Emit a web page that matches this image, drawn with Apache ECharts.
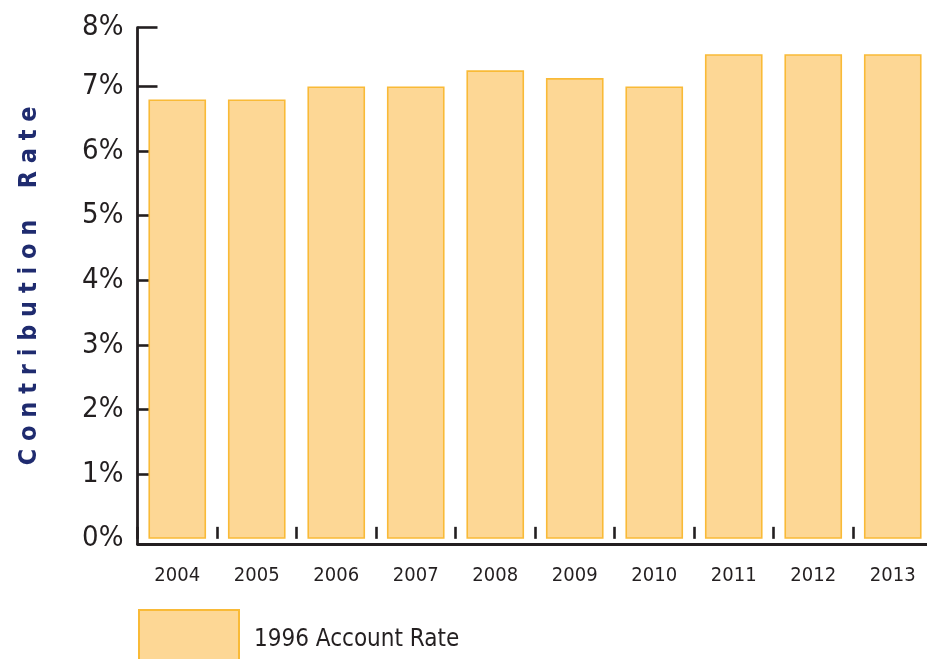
<!DOCTYPE html>
<html>
<head>
<meta charset="utf-8">
<script src="https://cdn.jsdelivr.net/npm/echarts@6/dist/echarts.min.js"></script>
<style>
html,body{margin:0;padding:0;background:#fff;}
#chart{width:927px;height:659px;}
</style>
</head>
<body>
<div id="chart"></div>
<script>
var years = ['2004','2005','2006','2007','2008','2009','2010','2011','2012','2013'];
var accountRate = [6.8, 6.8, 7.0, 7.0, 7.25, 7.13, 7.0, 7.5, 7.5, 7.5];
var seriesName = '1996 Account Rate';
var yAxisTitle = 'Contribution Rate';
var yTickLabels = ['0%','1%','2%','3%','4%','5%','6%','7%','8%'];

var FONT = '"Liberation Sans Narrow", "DejaVu Sans Condensed", "Liberation Sans", sans-serif';
var INK = '#231F20';
var AX_MAX = 7.91;   // top of the drawn axis, where the "8%" label sits
var AX_MIN = -0.08;  // axis extends slightly below zero

var labelVals = yTickLabels.map(function(_, i){ return i === yTickLabels.length - 1 ? AX_MAX : i; });
var tickVals = labelVals.slice(1);

function spaced(s){
  return s.split(' ').map(function(w){ return w.split('').join(' '); }).join('    ');
}

var chart = echarts.init(document.getElementById('chart'), null, {renderer:'canvas'});
chart.setOption({
  animation: false,
  grid: {left: 137.5, top: 27.7, width: 795, height: 516.3, containLabel: false, outerBoundsMode: 'none'},
  legend: {
    data: [seriesName], left: 138, top: 609, padding: 0,
    itemWidth: 100, itemHeight: 60, icon: 'rect',
    textStyle: {fontFamily: FONT, fontSize: 24, color: INK, padding: [0,0,0,10]}
  },
  xAxis: [{
    type: 'category', data: years, boundaryGap: true,
    axisLine: {show: false, onZero: true},
    axisTick: {show: true, inside: true, length: 12, lineStyle: {color: INK, width: 2.6}},
    axisLabel: {fontFamily: FONT, fontSize: 20, color: INK, margin: 22},
    splitLine: {show: false}
  },{
    type: 'category', data: years, position: 'bottom',
    axisLine: {show: true, onZero: false, lineStyle: {color: INK, width: 2.8, cap: 'round'}},
    axisTick: {show: false}, axisLabel: {show: false}, splitLine: {show: false}
  }],
  yAxis: {
    type: 'value', min: AX_MIN, max: AX_MAX,
    name: spaced(yAxisTitle), nameLocation: 'middle', nameRotate: 90, nameGap: 96,
    nameTextStyle: {fontFamily: FONT, fontWeight: 'bold', fontSize: 25, color: '#1F2B6F'},
    axisLine: {show: true, lineStyle: {color: INK, width: 2.8, cap: 'round'}},
    axisTick: {show: true, inside: true, length: 20, customValues: tickVals, lineStyle: {color: INK, width: 2.6}},
    axisLabel: {
      customValues: labelVals, margin: 14,
      fontFamily: FONT, fontSize: 29, color: INK,
      formatter: function(v){ return yTickLabels[Math.round(v)] || ''; }
    },
    splitLine: {show: false}
  },
  series: [{
    name: seriesName, type: 'bar', data: accountRate, xAxisIndex: 0,
    barCategoryGap: '27.5%',
    itemStyle: {color: '#FDD795', borderColor: '#F9BA37', borderWidth: 1.6}
  }]
});
</script>
</body>
</html>
